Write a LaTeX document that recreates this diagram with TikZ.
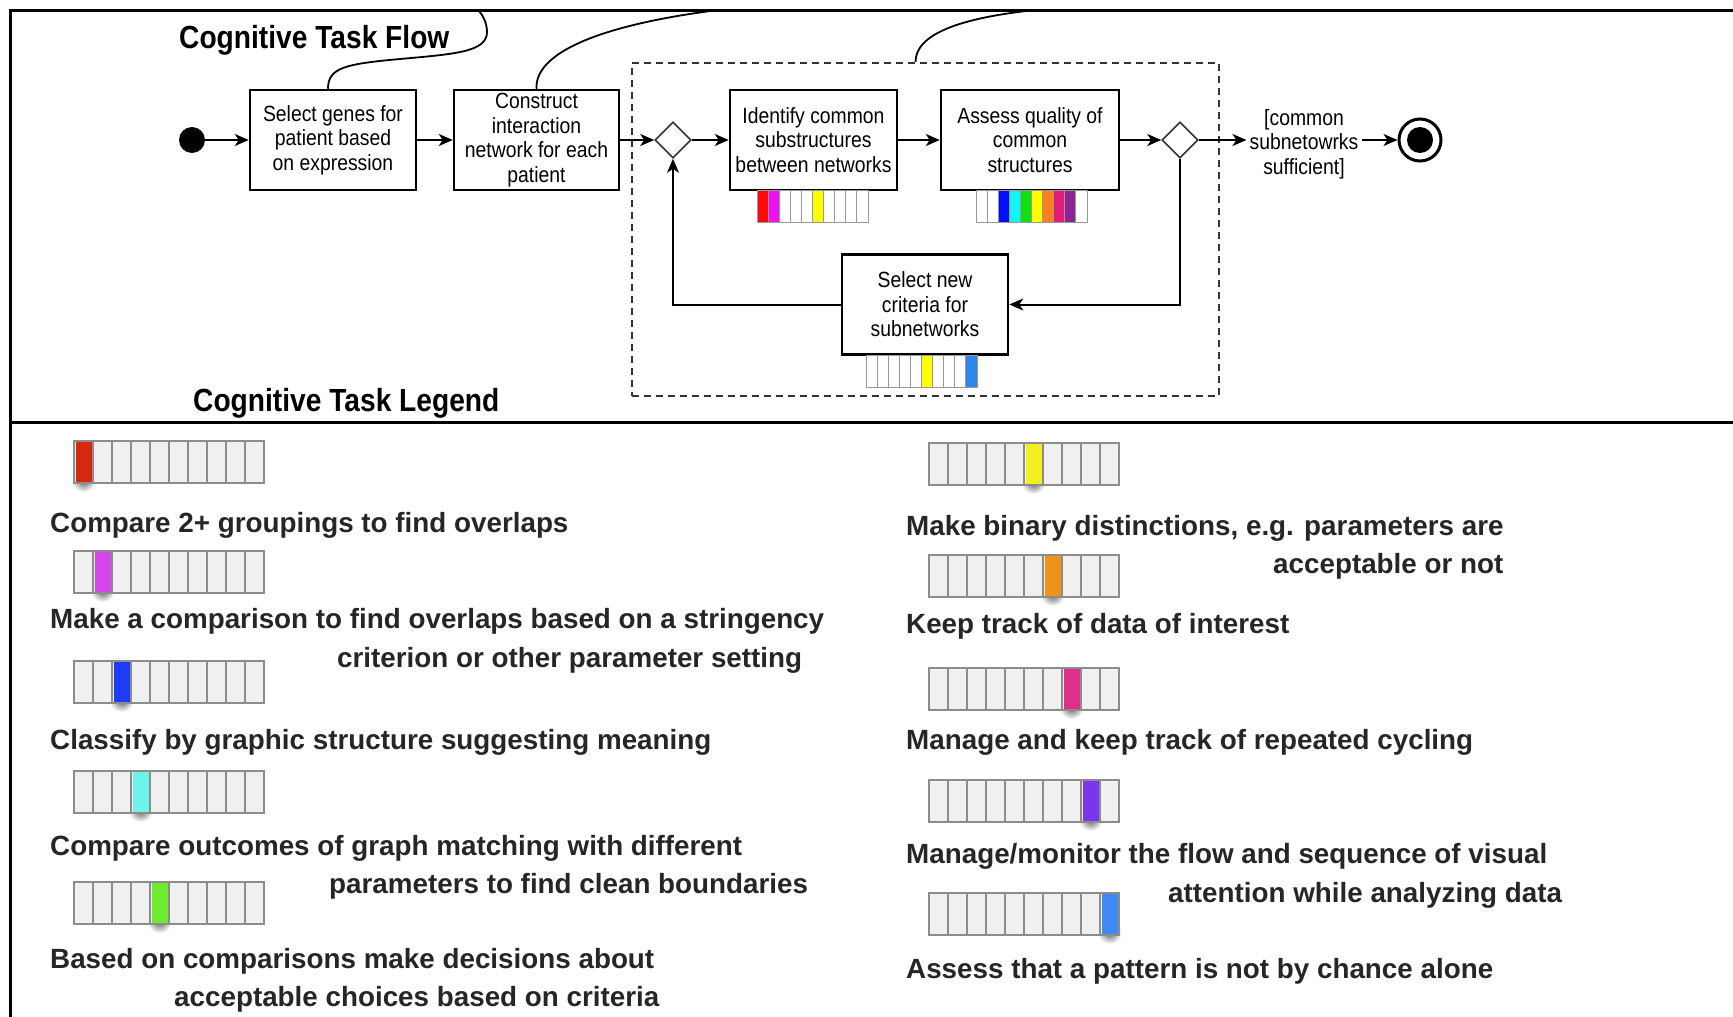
\documentclass[tikz,border=0pt]{standalone}
\usepackage{fontspec}
\setmainfont{Liberation Sans}
\newfontfamily\flowfont[FakeStretch=0.88]{Liberation Sans}
\newfontfamily\titlefont[FakeStretch=0.88]{Liberation Sans}
\usetikzlibrary{arrows.meta,shapes.geometric}

\definecolor{fRed}{HTML}{FF0A0A}
\definecolor{fMag}{HTML}{F010F0}
\definecolor{fBlue}{HTML}{0010FF}
\definecolor{fCyan}{HTML}{10F5F5}
\definecolor{fGreen}{HTML}{10E010}
\definecolor{fYel}{HTML}{FFFF00}
\definecolor{fOra}{HTML}{FF7F1E}
\definecolor{fPink}{HTML}{E01E78}
\definecolor{fPur}{HTML}{8E2496}
\definecolor{fLBlue}{HTML}{2E86E6}
\definecolor{lRed}{HTML}{D5290F}
\definecolor{lMag}{HTML}{D447EA}
\definecolor{lBlue}{HTML}{1E3CF5}
\definecolor{lCyan}{HTML}{6EF2F0}
\definecolor{lGreen}{HTML}{6EEB2E}
\definecolor{lYel}{HTML}{F4EE22}
\definecolor{lOra}{HTML}{EE921C}
\definecolor{lPink}{HTML}{DE3088}
\definecolor{lPur}{HTML}{7A35EE}
\definecolor{lLBlue}{HTML}{3F8AF0}

% flow colour bar: x, y(top), list of 10 colours
\newcommand\flowbar[3]{%
  \foreach \cc [count=\ii from 0] in {#3} {
    \fill[\cc] ({#1+\ii*11.1},#2) rectangle ++(11.1,32);
    \draw[black!40, line width=1pt] ({#1+\ii*11.1},#2) rectangle ++(11.1,32);
  }}
% legend bar: x, y(top), index of coloured cell, colour
\newcommand\legbar[4]{%
  \shade[inner color=black!60, outer color=white] ({#1+(#3-0.5)*19},{#2+40}) ellipse [x radius=12, y radius=11];
  \fill[black!6] (#1,#2) rectangle ++(190,42);
  \foreach \k in {1,...,9} \draw[black!45, line width=1.2pt] ({#1+\k*19},#2) -- ++(0,42);
  \draw[black!45, line width=1.2pt] (#1,#2) rectangle ++(190,42);
  \fill[#4] ({#1+(#3-1)*19+1.5},{#2+1}) rectangle ++(16,40);
}

\tikzset{
  taskbox/.style={draw, line width=2.5pt, minimum width=#1, minimum height=100,
    align=center, inner sep=0pt, font=\flowfont\fontsize{22}{24.5}\selectfont},
  flow/.style={-{Stealth[length=14pt,width=12pt,inset=4pt]}, line width=2pt},
  dec/.style={diamond, draw=black!80, line width=1.6pt, minimum width=36,
    minimum height=36, inner sep=0pt},
  ttl/.style={font=\titlefont\bfseries\fontsize{32}{34}\selectfont, anchor=base west, inner sep=0pt},
  leg/.style={font=\bfseries\fontsize{27.8}{30}\selectfont, text=black!85, anchor=base west, inner sep=0pt},
  callout/.style={line width=1.8pt},
  frame/.style={line width=3pt},
}

\begin{document}
\begin{tikzpicture}[x=1pt, y=-1pt]
\useasboundingbox (0,0) rectangle (1733,1017);
\fill[white] (0,0) rectangle (1733,1017);

% frame
\draw[frame] (10,1017) -- (10,10) -- (1733,10);
\draw[frame] (10,422) -- (1733,422);

% titles
\node[ttl] (tflow) at (179,48) {Cognitive Task Flow};
\node[ttl] (tleg) at (193,411) {Cognitive Task Legend};

% loop region
\node[draw=black!80, line width=2pt, dash pattern=on 7pt off 5pt,
      minimum width=587, minimum height=333, inner sep=0pt] (lp) at (925.5,229.5) {};

% flow nodes
\node[circle, fill=black, minimum size=26, inner sep=0pt] (start) at (192,140) {};
\node[taskbox=166] (b1) at (333,140) {Select genes for\\patient based\\on expression};
\node[taskbox=165] (b2) at (536.5,140) {Construct\\interaction\\network for each\\patient};
\node[dec] (d1) at (673,140) {};
\node[taskbox=167] (b3) at (813.5,140) {Identify common\\substructures\\between networks};
\node[taskbox=178] (b4) at (1030,140) {Assess quality of\\common\\structures};
\node[dec] (d2) at (1180,140) {};
\node[align=center, inner sep=3pt, font=\flowfont\fontsize{22}{24.5}\selectfont] (suff) at (1304,144) {[common\\subnetowrks\\sufficient]};
\node[circle, draw, line width=3pt, minimum size=42, inner sep=0pt] (endo) at (1420,140) {};
\node[circle, fill=black, minimum size=26, inner sep=0pt] (endi) at (endo) {};
\node[taskbox=166] (b5) at (925,304.5) {Select new\\criteria for\\subnetworks};

% colour bars
\flowbar{757}{190}{fRed,fMag,white,white,white,fYel,white,white,white,white}
\flowbar{976}{190}{white,white,fBlue,fCyan,fGreen,fYel,fOra,fPink,fPur,white}
\flowbar{866}{355}{white,white,white,white,white,fYel,white,white,white,fLBlue}

% connectors
\draw[flow] (start) -- (b1);
\draw[flow] (b1) -- (b2);
\draw[flow] (b2) -- (d1);
\draw[flow] (d1) -- (b3);
\draw[flow] (b3) -- (b4);
\draw[flow] (b4) -- (d2);
\draw[flow] (d2.east) -- (suff.west |- d2.east);
\draw[flow] (suff.east |- endo.west) -- (endo.west);
\draw[flow] (d2.south) |- (b5.east);
\draw[flow] (b5.west) -| (d1.south);

% callout curves
\coordinate (t1) at (478,10);
\coordinate (t2) at (718,10);
\coordinate (t3) at (1035,10);
\draw[callout] ([xshift=-5pt]b1.north) .. controls +(0,-21) and (345,64) .. (400,59)
   .. controls (455,54) and (487,52) .. (487,32) .. controls (487,22) and (482,14) .. (t1);
\draw[callout] (b2.north) .. controls +(-2,-36) and (600,25) .. (t2);
\draw[callout] ([xshift=-10pt]lp.north) .. controls +(0,-28) and (960,18) .. (t3);

% legend bars
\legbar{74}{441}{1}{lRed}
\legbar{74}{551}{2}{lMag}
\legbar{74}{661}{3}{lBlue}
\legbar{74}{771}{4}{lCyan}
\legbar{74}{882}{5}{lGreen}
\legbar{929}{443}{6}{lYel}
\legbar{929}{555}{7}{lOra}
\legbar{929}{668}{8}{lPink}
\legbar{929}{780}{9}{lPur}
\legbar{929}{893}{10}{lLBlue}

% legend texts
\node[leg] (l1) at (50,532) {Compare 2+ groupings to find overlaps};
\node[leg] (l2a) at (50,628) {Make a comparison to find overlaps based on a stringency};
\node[leg] (l2b) at (337,667) {criterion or other parameter setting};
\node[leg] (l3) at (50,749) {Classify by graphic structure suggesting meaning};
\node[leg] (l4a) at (50,855) {Compare outcomes of graph matching with different};
\node[leg] (l4b) at (329,893) {parameters to find clean boundaries};
\node[leg] (l5a) at (50,968) {Based on comparisons make decisions about};
\node[leg] (l5b) at (174,1006) {acceptable choices based on criteria};
\node[leg] (l6a) at (906,535) {Make binary distinctions, e.g. parameters are};
\node[leg] (l6b) at (1273,573) {acceptable or not};
\node[leg] (l7) at (906,633) {Keep track of data of interest};
\node[leg] (l8) at (906,749) {Manage and keep track of repeated cycling};
\node[leg] (l9a) at (906,863) {Manage/monitor the flow and sequence of visual};
\node[leg] (l9b) at (1168,902) {attention while analyzing data};
\node[leg] (l10) at (906,978) {Assess that a pattern is not by chance alone};
\end{tikzpicture}
\end{document}
